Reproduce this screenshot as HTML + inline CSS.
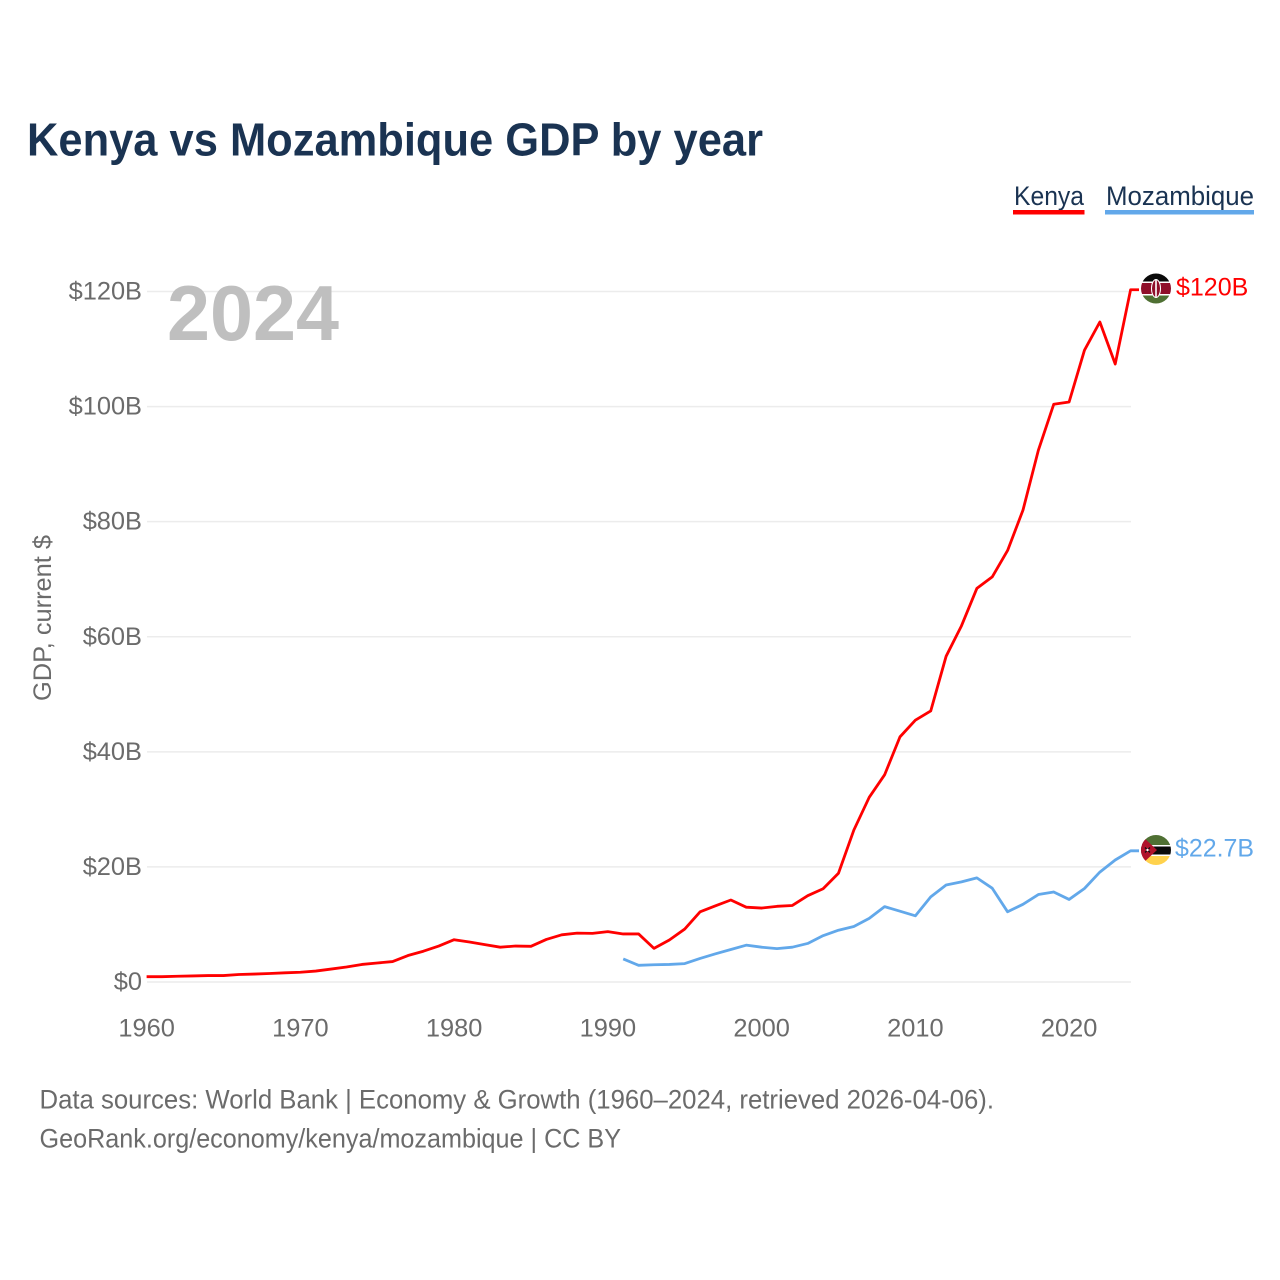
<!DOCTYPE html>
<html lang="en">
<head>
<meta charset="utf-8">
<title>Kenya vs Mozambique GDP by year</title>
<style>
  html, body { margin: 0; padding: 0; background: #fff; }
  svg { display: block; font-family: "Liberation Sans", sans-serif; }
</style>
</head>
<body>
<svg id="chart" xmlns="http://www.w3.org/2000/svg" width="1280" height="1280" viewBox="0 0 1280 1280">
  <defs>
    <clipPath id="clip-ke"><circle cx="1156" cy="288.5" r="15"/></clipPath>
    <clipPath id="clip-mz"><circle cx="1156" cy="850" r="15"/></clipPath>
  </defs>

  <text x="27" y="155.5" font-size="46" font-weight="700" fill="#1a3352" textLength="736" lengthAdjust="spacingAndGlyphs">Kenya vs Mozambique GDP by year</text>

  <g>
    <g>
      <text x="1014" y="205" font-size="27" fill="#1a3352" textLength="70" lengthAdjust="spacingAndGlyphs">Kenya</text>
      <rect x="1013" y="210" width="71.5" height="4.5" fill="#ff0000"/>
    </g>
    <g>
      <text x="1106" y="205" font-size="27" fill="#1a3352" textLength="148" lengthAdjust="spacingAndGlyphs">Mozambique</text>
      <rect x="1105" y="210" width="149" height="4.5" fill="#62a8ea"/>
    </g>
  </g>

  <g id="grid"></g>
  <g id="y-ticks"></g>
  <g id="x-ticks"></g>

  <text transform="translate(51 701) rotate(-90)" font-size="25" fill="#6b6b6b" textLength="166" lengthAdjust="spacingAndGlyphs">GDP, current $</text>

  <text x="167" y="340" font-size="78" font-weight="700" fill="#bfbfbf" textLength="172" lengthAdjust="spacingAndGlyphs">2024</text>

  <g id="series"></g>

  <g clip-path="url(#clip-ke)">
    <rect x="1141" y="273" width="30" height="31" fill="#fff"/>
    <rect x="1141" y="273" width="30" height="8.5" fill="#0a0a0a"/>
    <rect x="1141" y="283" width="30" height="11" fill="#8f0f2a"/>
    <rect x="1141" y="295.5" width="30" height="9" fill="#4f7033"/>
    <ellipse cx="1156" cy="288.5" rx="4.5" ry="9" fill="#8f0f2a" stroke="#fff" stroke-width="1"/>
    <rect x="1155.2" y="280" width="1.6" height="17" fill="#fff"/>
  </g>
  <g clip-path="url(#clip-mz)">
    <rect x="1141" y="835" width="30" height="30" fill="#fff"/>
    <rect x="1141" y="835" width="30" height="10" fill="#4f7033"/>
    <rect x="1141" y="846.5" width="30" height="8" fill="#0a0a0a"/>
    <rect x="1141" y="856" width="30" height="9" fill="#ffd24d"/>
    <polygon points="1141,835 1157,850 1141,865" fill="#b0132b"/>
    <path d="M1145 847.5 L1150 852.5 M1150 847.5 L1145 852.5" stroke="#111" stroke-width="1.3"/>
    <circle cx="1147.5" cy="850" r="1.2" fill="#fff"/>
  </g>

  <text x="1176" y="295.5" font-size="25" fill="#ff0000">$120B</text>
  <text x="1175" y="856.5" font-size="25" fill="#62a8ea" textLength="79" lengthAdjust="spacingAndGlyphs">$22.7B</text>

  <text x="39.5" y="1108.5" font-size="26.5" fill="#6b6b6b" textLength="954.5" lengthAdjust="spacingAndGlyphs">Data sources: World Bank | Economy &amp; Growth (1960–2024, retrieved 2026-04-06).</text>
  <text x="39.5" y="1147.5" font-size="26.5" fill="#6b6b6b" textLength="581.5" lengthAdjust="spacingAndGlyphs">GeoRank.org/economy/kenya/mozambique | CC BY</text>
</svg>

<script>
const yTickValues = [0, 20, 40, 60, 80, 100, 120];
const yTickLabels = ["$0", "$20B", "$40B", "$60B", "$80B", "$100B", "$120B"];
const xTickYears = [1960, 1970, 1980, 1990, 2000, 2010, 2020];
const kenyaStartYear = 1960;
const kenyaGdp = [
  0.92, 0.92, 1.0, 1.05, 1.12, 1.12, 1.3, 1.38, 1.48, 1.6,
  1.7, 1.9, 2.25, 2.6, 3.05, 3.3, 3.55, 4.6, 5.35, 6.25,
  7.35, 6.95, 6.5, 6.05, 6.25, 6.2, 7.4, 8.2, 8.5, 8.45,
  8.75, 8.35, 8.35, 5.85, 7.3, 9.2, 12.2, 13.25, 14.25, 13.0,
  12.85, 13.15, 13.3, 15.0, 16.2, 18.9, 26.4, 32.1, 36.0, 42.6,
  45.5, 47.1, 56.6, 61.9, 68.4, 70.4, 75.0, 82.0, 92.4, 100.4,
  100.8, 109.8, 114.7, 107.4, 120.3
];
const mozambiqueStartYear = 1991;
const mozambiqueGdp = [
  4.0, 2.9, 3.0, 3.05, 3.2, 4.1, 4.9, 5.65, 6.4,
  6.05, 5.8, 6.05, 6.7, 8.05, 9.0, 9.65, 11.05, 13.1, 12.3,
  11.5, 14.8, 16.85, 17.4, 18.1, 16.3, 12.2, 13.5, 15.2, 15.65,
  14.35, 16.25, 19.1, 21.2, 22.8
];

const NS = "http://www.w3.org/2000/svg";
const xScale = function (year) { return 146.6 + (year - 1960) * (1130.6 - 146.6) / 64; };
const yScale = function (value) { return 982 - value * (982 - 291.5) / 120; };

const gridGroup = document.getElementById("grid");
const yTickGroup = document.getElementById("y-ticks");
const xTickGroup = document.getElementById("x-ticks");
const seriesGroup = document.getElementById("series");

yTickValues.forEach(function (value, i) {
  const line = document.createElementNS(NS, "line");
  
  
  line.setAttribute("x1", 147);
  line.setAttribute("x2", 1131);
  line.setAttribute("y1", yScale(value));
  line.setAttribute("y2", yScale(value));
  line.setAttribute("stroke", "#ececec");
  line.setAttribute("stroke-width", "1.5");
  gridGroup.appendChild(line);

  const label = document.createElementNS(NS, "text");
  
  
  label.setAttribute("x", 142);
  label.setAttribute("y", yScale(value) + 8);
  label.setAttribute("text-anchor", "end");
  label.setAttribute("font-size", "25.4");
  label.setAttribute("fill", "#6b6b6b");
  label.textContent = yTickLabels[i];
  yTickGroup.appendChild(label);
});

xTickYears.forEach(function (year) {
  const label = document.createElementNS(NS, "text");
  
  
  label.setAttribute("x", xScale(year));
  label.setAttribute("y", 1036.5);
  label.setAttribute("text-anchor", "middle");
  label.setAttribute("font-size", "25.4");
  label.setAttribute("fill", "#6b6b6b");
  label.textContent = String(year);
  xTickGroup.appendChild(label);
});

function seriesPoints(startYear, values) {
  return values.map(function (value, i) {
    return xScale(startYear + i).toFixed(2) + "," + yScale(value).toFixed(2);
  });
}

const kenyaPoints = seriesPoints(kenyaStartYear, kenyaGdp);
const kenyaLastY = yScale(kenyaGdp[kenyaGdp.length - 1]).toFixed(2);
kenyaPoints.push("1139," + kenyaLastY);
const kenyaLine = document.createElementNS(NS, "polyline");


kenyaLine.setAttribute("points", kenyaPoints.join(" "));
kenyaLine.setAttribute("fill", "none");
kenyaLine.setAttribute("stroke", "#ff0000");
kenyaLine.setAttribute("stroke-width", "2.8");
kenyaLine.setAttribute("stroke-linejoin", "round");
seriesGroup.appendChild(kenyaLine);

const mozambiquePoints = seriesPoints(mozambiqueStartYear, mozambiqueGdp);
const mozambiqueLastY = yScale(mozambiqueGdp[mozambiqueGdp.length - 1]).toFixed(2);
mozambiquePoints.push("1139," + mozambiqueLastY);
const mozambiqueLine = document.createElementNS(NS, "polyline");


mozambiqueLine.setAttribute("points", mozambiquePoints.join(" "));
mozambiqueLine.setAttribute("fill", "none");
mozambiqueLine.setAttribute("stroke", "#62a8ea");
mozambiqueLine.setAttribute("stroke-width", "2.8");
mozambiqueLine.setAttribute("stroke-linejoin", "round");
seriesGroup.appendChild(mozambiqueLine);
</script>
</body>
</html>
